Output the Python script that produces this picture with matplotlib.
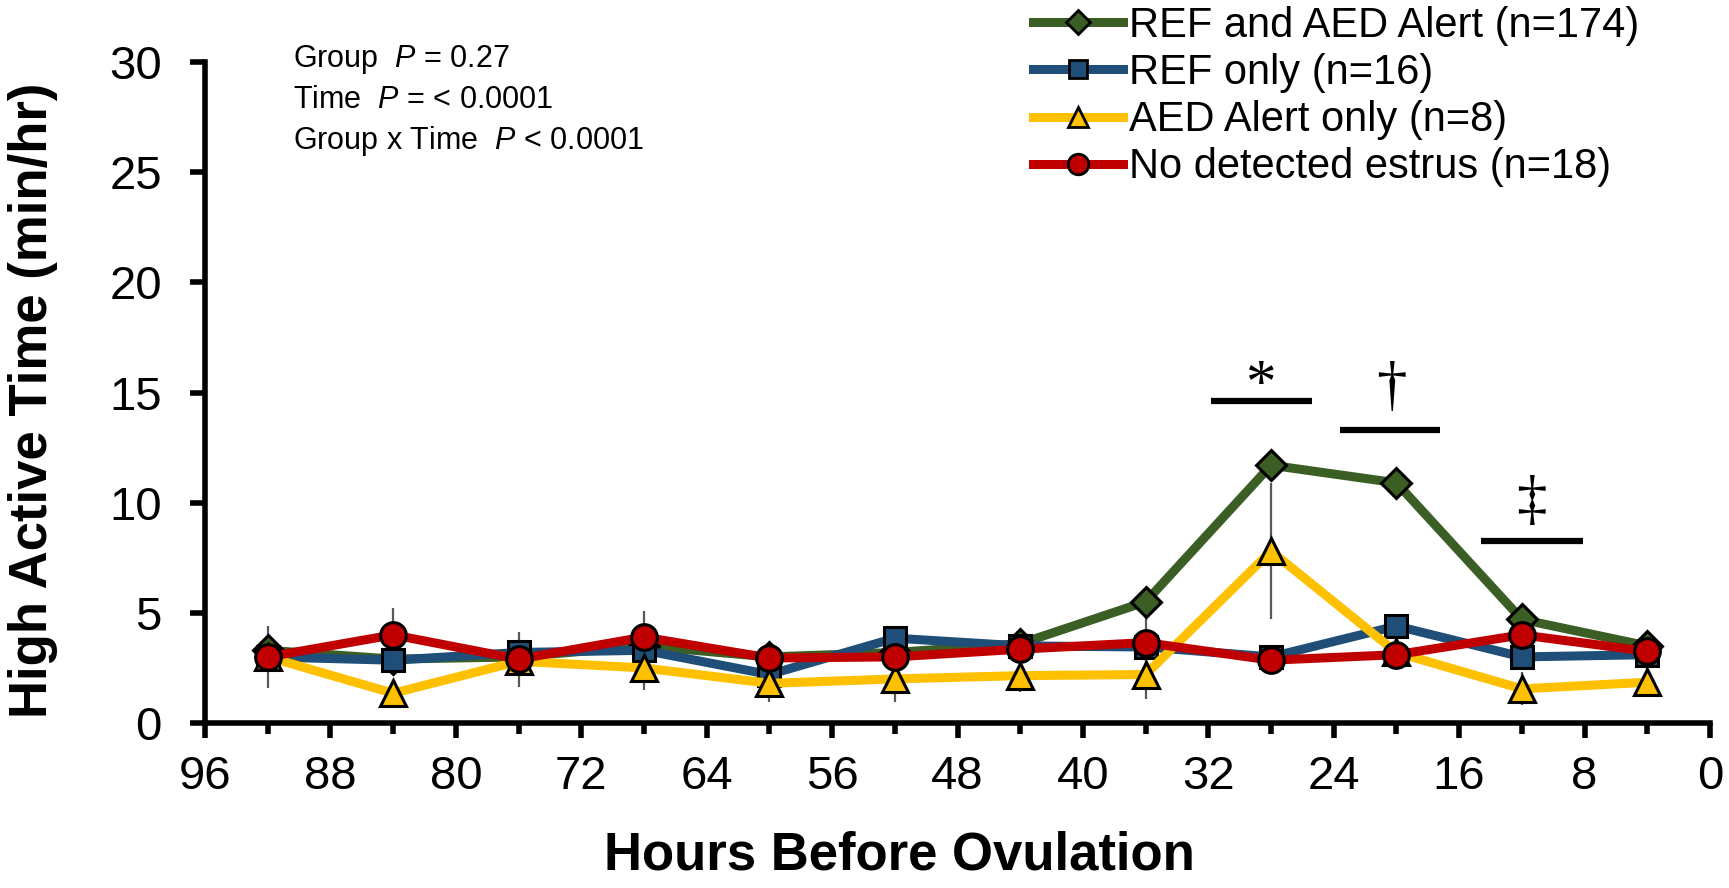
import matplotlib
matplotlib.use("Agg")
import matplotlib.pyplot as plt
from matplotlib.lines import Line2D

plt.rcParams['font.family'] = ['Liberation Sans', 'DejaVu Sans']
plt.rcParams['mathtext.fontset'] = 'custom'
plt.rcParams['mathtext.rm'] = 'Liberation Sans'
plt.rcParams['mathtext.it'] = 'Liberation Sans:italic'

# hours before ovulation
hours = [92, 84, 76, 68, 60, 52, 44, 36, 28, 20, 12, 4]

labels = ["REF and AED Alert (n=174)", "REF only (n=16)",
          "AED Alert only (n=8)", "No detected estrus (n=18)"]
colors = ["#3B5E24", "#1F4E79", "#FFC000", "#C00000"]
markers = ["D", "s", "^", "o"]

both = [3.3, 2.9, 3.0, 3.5, 3.0, 3.2, 3.6, 5.5, 11.7, 10.9, 4.7, 3.5]
ref_only = [3.0, 2.85, 3.2, 3.3, 2.2, 3.85, 3.5, 3.45, 3.0, 4.4, 3.0, 3.1]
aed_only = [3.0, 1.35, 2.8, 2.5, 1.8, 2.0, 2.15, 2.2, 7.8, 3.2, 1.55, 1.85]
no_estrus = [3.0, 4.0, 2.9, 3.9, 2.95, 3.0, 3.35, 3.65, 2.85, 3.1, 4.0, 3.25]

both_se = [0.5, 0.5, 0.5, 0.5, 0.5, 0.5, 0.5, 0.5, 0.5, 0.5, 0.5, 0.5]
ref_se = [0.5, 0.5, 0.5, 0.5, 0.5, 0.5, 0.5, 0.5, 0.5, 0.5, 0.5, 0.5]
aed_se = [0.5, 0.5, 0.5, 1.0, 0.85, 1.05, 0.75, 1.1, 3.1, 0.7, 0.75, 0.68]
no_se = [1.4, 1.2, 1.25, 1.2, 0.5, 0.5, 0.5, 1.3, 0.5, 0.5, 0.5, 0.5]

series = [both, ref_only, aed_only, no_estrus]
errs = [both_se, ref_se, aed_se, no_se]
msizes = [15.5, 16, 18.5, 18.5]

# significance bars: (start, end, y), symbol, (x, y baseline)
sig_bars = [(31.8, 25.4, 14.62), (23.6, 17.2, 13.3), (14.6, 8.1, 8.26)]
sig_marks = ["*", "\u2020", "\u2021"]
sig_pos = [(28.7, 14.6), (20.3, 14.5), (11.4, 9.3)]

stats = ["Group  $\\it{P}$ = 0.27", "Time  $\\it{P}$ = < 0.0001",
         "Group x Time  $\\it{P}$ < 0.0001"]

W, H = 1729, 888
fig = plt.figure(figsize=(W / 100, H / 100), dpi=100)
ax = fig.add_axes([205 / W, 1 - 723 / H, (1710 - 205) / W, (723 - 62) / H])

for i in range(4):
    ax.errorbar(hours, series[i], yerr=errs[i], fmt='none', ecolor='#595959',
                elinewidth=1.6, capsize=0, zorder=1)
for i in range(4):
    ax.plot(hours, series[i], color=colors[i], lw=6.5, marker=markers[i],
            ms=msizes[i], mfc=colors[i], mec='black', mew=2.2,
            zorder=3 + i, clip_on=False)

for (x0, x1, yb), s, (tx, ty) in zip(sig_bars, sig_marks, sig_pos):
    ax.plot([x0, x1], [yb, yb], color='black', lw=4.5, solid_capstyle='butt')
    ax.text(tx, ty, s, ha='center', va='baseline', fontsize=44,
            family='Liberation Serif')

ax.set_xlim(96, 0)
ax.set_ylim(0, 30)
ax.set_xticks(range(0, 97, 8))
ax.set_xticks(range(4, 96, 8), minor=True)
ax.set_yticks(range(0, 31, 5))
for s in ['top', 'right']:
    ax.spines[s].set_visible(False)
for s in ['left', 'bottom']:
    ax.spines[s].set_linewidth(4)
ax.tick_params(axis='both', which='major', length=11, width=4, labelsize=34)
ax.tick_params(axis='x', which='major', pad=12)
ax.tick_params(axis='y', which='major', pad=20)
ax.tick_params(axis='x', which='minor', length=8, width=4)

fig.text(33 / W, 1 - 400 / H, "High Active Time (min/hr)", rotation=90,
         ha='center', va='center', fontsize=38, fontweight='bold')
fig.text(899 / W, 1 - 855 / H, "Hours Before Ovulation",
         ha='center', va='center', fontsize=38, fontweight='bold')

for k, t in enumerate(stats):
    fig.text(293 / W, 1 - (59 + 41 * k) / H, t, ha='left', va='center',
             fontsize=22)

handles = [Line2D([], [], color=colors[i], lw=6.5, marker=markers[i],
                  ms=msizes[i] * 0.8, mfc=colors[i], mec='black', mew=2)
           for i in range(4)]
fig.legend(handles, labels, loc='upper left',
           bbox_to_anchor=(1033 / W, 1 - 6 / H),
           frameon=False, fontsize=30, handlelength=2.15, handletextpad=0.15,
           labelspacing=0.17, borderpad=0, borderaxespad=0)

fig.savefig("out.png", dpi=100)
